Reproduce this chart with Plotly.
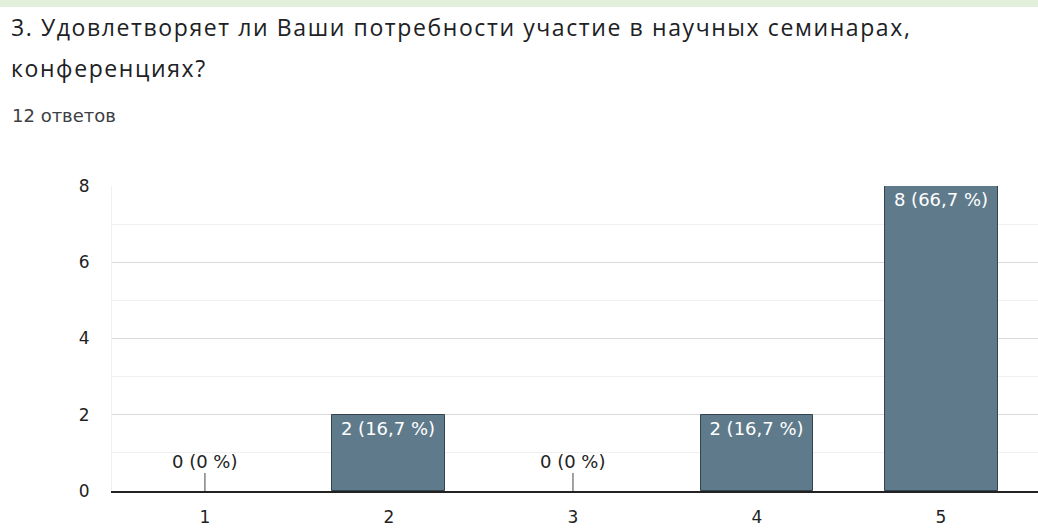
import plotly.graph_objects as go

# ---- data ----
categories = ["1", "2", "3", "4", "5"]
counts = [0, 2, 0, 2, 8]
title_line1 = "3. Удовлетворяет ли Ваши потребности участие в научных семинарах,"
title_line2 = "конференциях?"
subtitle = "12 ответов"
y_ticks = [0, 2, 4, 6, 8]

total = sum(counts)


def fmt_pct(v):
    p = round(v / total * 100, 1)
    s = ("%.1f" % p).rstrip("0").rstrip(".")
    return s.replace(".", ",")


labels = [f"{v} ({fmt_pct(v)} %)" for v in counts]

W, H = 1038, 530
ML, MR, MT, MB = 112, 0, 186, 39
PW, PH = W - ML - MR, H - MT - MB


def px(x):
    return (x - ML) / PW


def py(y):
    return (H - y - MB) / PH


bar_color = "#5f7b8b"
border_color = "#33444e"
lab_font = "DejaVu Sans"

fig = go.Figure()
fig.add_trace(go.Bar(
    x=categories,
    y=counts,
    width=0.614,
    marker=dict(color=bar_color,
                line=dict(color=border_color, width=[1 if v > 0 else 0 for v in counts])),
    text=[l if v > 0 else "" for l, v in zip(labels, counts)],
    textposition="inside",
    insidetextanchor="end",
    textfont=dict(color="white", size=18, family=lab_font),
    hoverinfo="skip",
    cliponaxis=False,
))

annotations = []
for i, (c, v, l) in enumerate(zip(categories, counts, labels)):
    if v == 0:
        annotations.append(dict(
            x=i, y=v, xref="x", yref="y", text=l,
            showarrow=True, arrowhead=0, arrowwidth=1, arrowcolor="#444444",
            ax=0, ay=-30,
            font=dict(size=18, family=lab_font, color="#222222"),
        ))

title_style = "letter-spacing:1.6px"
annotations += [
    dict(xref="paper", yref="paper", x=px(9), y=py(27), xanchor="left", yanchor="middle",
         text=f'<span style="{title_style}">{title_line1}</span>', showarrow=False,
         font=dict(family="Open Sans", size=23, color="#202124")),
    dict(xref="paper", yref="paper", x=px(9), y=py(68), xanchor="left", yanchor="middle",
         text=f'<span style="{title_style}">{title_line2}</span>', showarrow=False,
         font=dict(family="Open Sans", size=23, color="#202124")),
    dict(xref="paper", yref="paper", x=px(10), y=py(115), xanchor="left", yanchor="middle",
         text=subtitle, showarrow=False,
         font=dict(family="DejaVu Sans", size=18, color="#3c4043")),
]

fig.update_layout(
    width=W, height=H,
    margin=dict(l=ML, r=MR, t=MT, b=MB, pad=0),
    paper_bgcolor="white", plot_bgcolor="white",
    showlegend=False,
    bargap=0,
    annotations=annotations,
    shapes=[dict(type="rect", xref="paper", yref="paper",
                 x0=px(0), x1=1.0, y0=py(7), y1=py(-2),
                 fillcolor="#e2efda", line=dict(width=0), layer="below")],
    xaxis=dict(
        type="category",
        range=[-0.505, 4.527],
        showgrid=False,
        showline=True, linecolor="#222222", linewidth=2,
        ticks="", ticklabelstandoff=10,
        tickfont=dict(family=lab_font, size=17, color="#222222"),
        zeroline=False,
        fixedrange=True,
    ),
    yaxis=dict(
        range=[0, 8],
        tickvals=y_ticks,
        showgrid=True, gridcolor="#d9d9d9", gridwidth=1,
        minor=dict(dtick=1, showgrid=True, gridcolor="#efefef", gridwidth=1),
        zeroline=False,
        showline=True, linecolor="#f0f0f0", linewidth=1,
        ticks="", ticklabelstandoff=18,
        tickfont=dict(family=lab_font, size=17, color="#222222"),
        fixedrange=True,
    ),
)

fig.write_html(
    "out.html",
    config={"displayModeBar": False},
    post_script="document.body.style.margin='0';document.body.style.overflow='hidden';",
)
